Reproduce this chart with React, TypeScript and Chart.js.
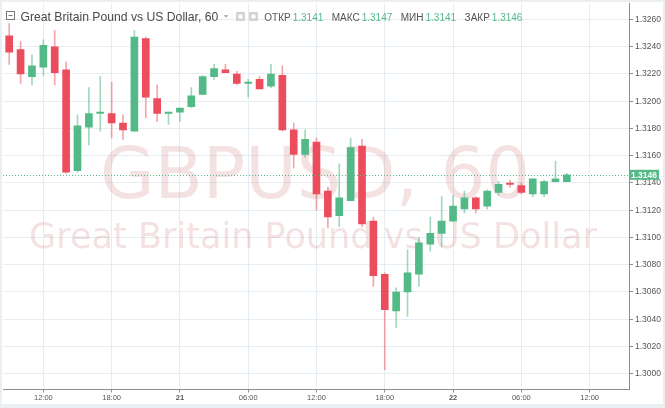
import React, { useEffect, useRef } from 'react';
import { Chart, registerables } from 'chart.js';

Chart.register(...registerables);

// Hour index counted from 20th 00:00 (hourly candles, 09:00 on 20th .. 10:00 on 22nd)
const HOURS = [
  9, 10, 11, 12, 13, 14, 15, 16, 17, 18,
  19, 20, 21, 22, 23, 24, 25, 26, 27, 28,
  29, 30, 31, 32, 33, 34, 35, 36, 37, 38,
  39, 40, 41, 42, 43, 44, 45, 46, 47, 48,
  49, 50, 51, 52, 53, 54, 55, 56, 57, 58,
];
const OPEN = [
  1.3248, 1.3238, 1.3218, 1.3225, 1.3240, 1.3223, 1.3149, 1.3181, 1.3191, 1.3191,
  1.3184, 1.3178, 1.3246, 1.3202, 1.3191, 1.3192, 1.3196, 1.3205, 1.3218, 1.3223,
  1.3220, 1.3213, 1.3216, 1.3211, 1.3219, 1.3179, 1.3161, 1.3170, 1.3134, 1.3116,
  1.3127, 1.3167, 1.3112, 1.3073, 1.3046, 1.3060, 1.3073, 1.3095, 1.3103, 1.3112,
  1.3121, 1.3129, 1.3123, 1.3133, 1.3140, 1.3138, 1.3132, 1.3132, 1.3141, 1.3141,
];
const HIGH = [
  1.3257, 1.3244, 1.3234, 1.3245, 1.3252, 1.3229, 1.3190, 1.3210, 1.3218, 1.3214,
  1.3190, 1.3252, 1.3247, 1.3212, 1.3192, 1.3195, 1.3210, 1.3219, 1.3227, 1.3227,
  1.3222, 1.3216, 1.3218, 1.3227, 1.3226, 1.3184, 1.3179, 1.3173, 1.3137, 1.3154,
  1.3173, 1.3172, 1.3115, 1.3074, 1.3063, 1.3091, 1.3100, 1.3115, 1.3130, 1.3131,
  1.3134, 1.3130, 1.3135, 1.3141, 1.3142, 1.3140, 1.3143, 1.3142, 1.3156, 1.3147,
];
const LOW = [
  1.3227, 1.3213, 1.3212, 1.3219, 1.3212, 1.3147, 1.3148, 1.3168, 1.3178, 1.3173,
  1.3172, 1.3178, 1.3188, 1.3185, 1.3183, 1.3185, 1.3195, 1.3205, 1.3216, 1.3221,
  1.3212, 1.3203, 1.3209, 1.3210, 1.3178, 1.3151, 1.3159, 1.3120, 1.3107, 1.3108,
  1.3127, 1.3108, 1.3064, 1.3003, 1.3034, 1.3042, 1.3064, 1.3090, 1.3093, 1.3112,
  1.3118, 1.3118, 1.3121, 1.3131, 1.3137, 1.3132, 1.3130, 1.3130, 1.3141, 1.3141,
];
const CLOSE = [
  1.3236, 1.3220, 1.3226, 1.3241, 1.3221, 1.3148, 1.3182, 1.3191, 1.3192, 1.3184,
  1.3179, 1.3247, 1.3203, 1.3191, 1.3192, 1.3195, 1.3204, 1.3218, 1.3224, 1.3221,
  1.3213, 1.3214, 1.3209, 1.3220, 1.3179, 1.3161, 1.3172, 1.3132, 1.3115, 1.3129,
  1.3166, 1.3110, 1.3072, 1.3047, 1.3060, 1.3074, 1.3096, 1.3103, 1.3112, 1.3123,
  1.3129, 1.3121, 1.3134, 1.3139, 1.3139, 1.3133, 1.3143, 1.3141, 1.3143, 1.3146,
];

const X_TICK_VALUES = [12, 18, 24, 30, 36, 42, 48, 54, 60];
const X_TICK_LABELS = ['12:00', '18:00', '21', '06:00', '12:00', '18:00', '22', '06:00', '12:00'];
const X_DAY_LABELS = ['21', '22'];
const Y_TICK_VALUES = [
  1.3, 1.302, 1.304, 1.306, 1.308, 1.31, 1.312, 1.314,
  1.316, 1.318, 1.32, 1.322, 1.324, 1.326,
];

const TITLE = 'Great Britain Pound vs US Dollar, 60';
const WATERMARK_SYMBOL = 'GBPUSD, 60';
const WATERMARK_NAME = 'Great Britain Pound vs US Dollar';
const OHLC_LABELS = ['ОТКР', 'МАКС', 'МИН', 'ЗАКР'];
const OHLC_VALUES = ['1.3141', '1.3147', '1.3141', '1.3146'];

const UP = '#53b987';
const DOWN = '#eb4d5c';
const UP_WICK = 'rgba(83,185,135,0.55)';
const DOWN_WICK = 'rgba(235,77,92,0.5)';
const GRID = '#e6edf2';
const AXIS = '#8e8e8e';
const TEXT = '#555555';

function fitSize(ctx: CanvasRenderingContext2D, text: string, family: string, weight: string, target: number) {
  ctx.font = `${weight} 100px ${family}`;
  const w = ctx.measureText(text).width;
  return (100 * target) / w;
}

const backgroundPlugin = {
  id: 'bgFrame',
  beforeDraw(chart: any) {
    const ctx = chart.ctx as CanvasRenderingContext2D;
    ctx.save();
    ctx.fillStyle = '#eceff2';
    ctx.fillRect(0, 0, chart.width, chart.height);
    ctx.fillStyle = '#ffffff';
    ctx.fillRect(2, 2, chart.width - 4, chart.height - 6);
    ctx.restore();
  },
};

const watermarkPlugin = {
  id: 'watermark',
  beforeDatasetsDraw(chart: any) {
    const ctx = chart.ctx as CanvasRenderingContext2D;
    const a = chart.chartArea;
    ctx.save();
    ctx.beginPath();
    ctx.rect(a.left, a.top, a.right - a.left, a.bottom - a.top);
    ctx.clip();
    ctx.fillStyle = 'rgba(200,110,110,0.2)';
    ctx.textAlign = 'center';
    ctx.textBaseline = 'alphabetic';
    const fam = '"DejaVu Sans"';
    const s1 = fitSize(ctx, WATERMARK_SYMBOL, fam, 'normal', 430);
    ctx.font = `normal ${s1}px ${fam}`;
    ctx.fillText(WATERMARK_SYMBOL, 315, 198);
    const s2 = fitSize(ctx, WATERMARK_NAME, fam, 'normal', 568);
    ctx.font = `normal ${s2}px ${fam}`;
    ctx.fillText(WATERMARK_NAME, 313, 248);
    ctx.restore();
  },
};

const lastPricePlugin = {
  id: 'lastPrice',
  afterDatasetsDraw(chart: any) {
    const ctx = chart.ctx as CanvasRenderingContext2D;
    const a = chart.chartArea;
    const y = Math.round(chart.scales.y.getPixelForValue(CLOSE[CLOSE.length - 1])) + 0.5;
    ctx.save();
    ctx.strokeStyle = UP;
    ctx.lineWidth = 1;
    ctx.setLineDash([1, 2]);
    ctx.beginPath();
    ctx.moveTo(a.left, y);
    ctx.lineTo(a.right, y);
    ctx.stroke();
    ctx.restore();
  },
  afterDraw(chart: any) {
    const ctx = chart.ctx as CanvasRenderingContext2D;
    const a = chart.chartArea;
    const last = CLOSE[CLOSE.length - 1];
    const y = chart.scales.y.getPixelForValue(last);
    ctx.save();
    ctx.fillStyle = UP;
    ctx.fillRect(a.right, y - 5, 30, 10);
    ctx.fillStyle = '#ffffff';
    ctx.font = 'bold 8.5px "Liberation Sans"';
    ctx.textAlign = 'center';
    ctx.textBaseline = 'middle';
    ctx.fillText(last.toFixed(4), a.right + 15, y + 0.5);
    ctx.restore();

    // header legend
    ctx.save();
    // collapse icon
    ctx.strokeStyle = '#7a7a7a';
    ctx.lineWidth = 1;
    ctx.strokeRect(6.5, 11.5, 8, 8);
    ctx.beginPath();
    ctx.moveTo(8.5, 15.5);
    ctx.lineTo(12.5, 15.5);
    ctx.stroke();

    const tfam = '"Liberation Sans"';
    const ts = fitSize(ctx, TITLE, tfam, 'normal', 198);
    ctx.font = `normal ${ts}px ${tfam}`;
    ctx.fillStyle = '#4a4a4a';
    ctx.textAlign = 'left';
    ctx.textBaseline = 'alphabetic';
    ctx.fillText(TITLE, 20.5, 21);

    // dropdown arrow
    ctx.fillStyle = '#b8b8b8';
    ctx.beginPath();
    ctx.moveTo(223.5, 15);
    ctx.lineTo(228.5, 15);
    ctx.lineTo(226, 18);
    ctx.closePath();
    ctx.fill();

    // two small icons
    ctx.fillStyle = '#d3d3d3';
    ctx.fillRect(236, 12, 9, 9);
    ctx.fillRect(249, 12, 9, 9);
    ctx.fillStyle = '#ffffff';
    ctx.beginPath();
    ctx.arc(240.5, 16.5, 2.2, 0, Math.PI * 2);
    ctx.fill();
    ctx.beginPath();
    ctx.arc(253.5, 16.5, 2.2, 0, Math.PI * 2);
    ctx.fill();

    // OHLC
    ctx.font = `normal 10px ${tfam}`;
    let x = 264.3;
    for (let i = 0; i < OHLC_LABELS.length; i++) {
      ctx.fillStyle = TEXT;
      ctx.fillText(OHLC_LABELS[i], x, 20.5);
      x += ctx.measureText(OHLC_LABELS[i]).width + 2;
      ctx.fillStyle = UP;
      ctx.fillText(OHLC_VALUES[i], x, 20.5);
      x += ctx.measureText(OHLC_VALUES[i]).width + 8.5;
    }
    ctx.restore();
  },
};

export default function App() {
  const ref = useRef<HTMLCanvasElement | null>(null);

  useEffect(() => {
    if (!ref.current) return;
    const up = HOURS.map((_, i) => CLOSE[i] >= OPEN[i]);
    const chart = new Chart(ref.current, {
      type: 'bar',
      data: {
        datasets: [
          {
            label: 'wick',
            data: HOURS.map((h, i) => ({ x: h, y: [LOW[i], HIGH[i]] })) as any,
            backgroundColor: up.map((u) => (u ? UP_WICK : DOWN_WICK)),
            barThickness: 1,
            grouped: false,
            order: 2,
          } as any,
          {
            label: 'body',
            data: HOURS.map((h, i) => ({ x: h, y: [OPEN[i], CLOSE[i]] })) as any,
            backgroundColor: up.map((u) => (u ? UP : DOWN)),
            barThickness: 7,
            minBarLength: 1,
            grouped: false,
            order: 1,
          } as any,
        ],
      },
      options: {
        animation: false,
        responsive: false,
        devicePixelRatio: 1,
        layout: { padding: { left: 3, top: 3, right: 0, bottom: 0 } },
        plugins: { legend: { display: false }, tooltip: { enabled: false } },
        scales: {
          x: {
            type: 'linear',
            min: 8.455,
            max: 63.46,
            offset: false,
            afterBuildTicks: (s: any) => {
              s.ticks = X_TICK_VALUES.map((v) => ({ value: v }));
            },
            afterFit: (s: any) => {
              s.height = 18.5;
              s.paddingLeft = 0;
              s.paddingRight = 0;
            },
            ticks: {
              autoSkip: false,
              maxRotation: 0,
              padding: 1,
              color: TEXT,
              callback: (_v: any, i: number) => X_TICK_LABELS[i],
              font: (c: any) => ({
                family: '"Liberation Sans"',
                size: 7.5,
                weight: c.tick && X_DAY_LABELS.includes(c.tick.label) ? 'bold' : 'normal',
              }),
            },
            grid: { color: GRID, offset: false, tickColor: AXIS, tickLength: 3 },
            border: { color: AXIS, width: 1 },
          } as any,
          y: {
            type: 'linear',
            position: 'right',
            min: 1.29884,
            max: 1.32721,
            beginAtZero: false,
            afterBuildTicks: (s: any) => {
              s.ticks = Y_TICK_VALUES.map((v) => ({ value: v }));
            },
            afterFit: (s: any) => {
              s.width = 36;
              s.paddingTop = 0;
              s.paddingBottom = 0;
            },
            ticks: {
              padding: 2,
              color: TEXT,
              font: { family: '"Liberation Sans"', size: 8.5 },
              callback: (v: any) => Number(v).toFixed(4),
            },
            grid: { color: GRID, tickColor: AXIS, tickLength: 4 },
            border: { color: AXIS, width: 1 },
          } as any,
        },
      },
      plugins: [backgroundPlugin, watermarkPlugin, lastPricePlugin],
    });
    return () => chart.destroy();
  }, []);

  return (
    <div style={{ position: 'fixed', left: 0, top: 0, width: 665, height: 408, background: '#eceff2' }}>
      <canvas ref={ref} width={665} height={408} style={{ display: 'block', width: 665, height: 408 }} />
    </div>
  );
}
